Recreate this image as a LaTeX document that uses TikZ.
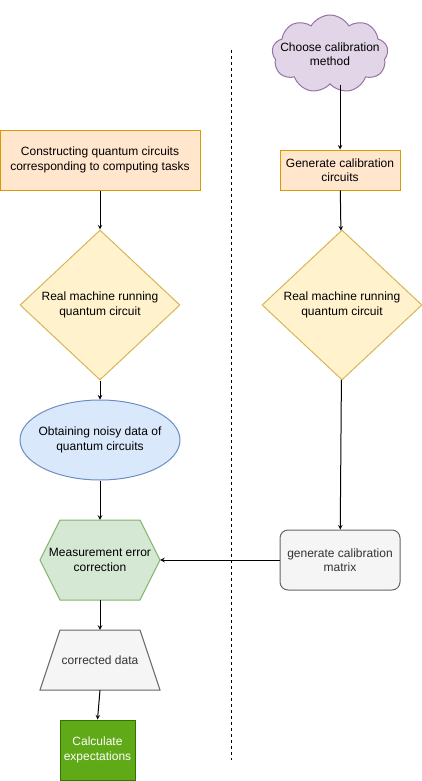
\documentclass[tikz,border=0pt]{standalone}
\usepackage{fontspec}
\setmainfont{Liberation Sans}
\usetikzlibrary{shapes.geometric,shapes.symbols}

\definecolor{orangefill}{HTML}{FFE6CC}
\definecolor{orangeline}{HTML}{D79B00}
\definecolor{yellowfill}{HTML}{FFF2CC}
\definecolor{yellowline}{HTML}{D6B656}
\definecolor{bluefill}{HTML}{DAE8FC}
\definecolor{blueline}{HTML}{6C8EBF}
\definecolor{greenfill}{HTML}{D5E8D4}
\definecolor{greenline}{HTML}{82B366}
\definecolor{grayfill}{HTML}{F5F5F5}
\definecolor{grayline}{HTML}{666666}
\definecolor{graytext}{HTML}{333333}
\definecolor{purplefill}{HTML}{E1D5E7}
\definecolor{purpleline}{HTML}{9673A6}
\definecolor{darkgreenfill}{HTML}{60A917}
\definecolor{darkgreenline}{HTML}{2D7600}

\tikzset{
  taskbox/.style={rectangle,draw=orangeline,fill=orangefill,line width=1pt},
  runbox/.style={diamond,draw=yellowline,fill=yellowfill,line width=1pt,minimum width=160pt,minimum height=150pt,inner sep=0pt},
  flowarrow/.style={-stealth,line width=1pt}
}

\begin{document}
\begin{tikzpicture}[x=1pt,y=-1pt,font=\fontsize{12}{14.5}\selectfont,align=center]
            \useasboundingbox (0,0) rectangle (421,781);
            \draw[dashed] (231,50) -- (231,760);

            % right column
            \node[cloud,cloud puffs=9,cloud puff arc=120,draw=purpleline,fill=purplefill,line width=1pt,minimum width=116pt,minimum height=78pt,inner sep=0pt] (choose) at (330,54) {};
            \node (choosetext) at (choose.center) {Choose calibration\\method};
            \node[taskbox,minimum width=120pt,minimum height=40pt] (gencirc) at (340,170) {Generate calibration\\circuits};
            \node[runbox] (runright) at (342,305) {Real machine running\\quantum circuit};
            \node[rectangle,rounded corners=8pt,draw=grayline,fill=grayfill,text=graytext,line width=1pt,minimum width=120pt,minimum height=60pt] (matrix) at (340,560) {generate calibration\\matrix};

            % left column
            \node[taskbox,minimum width=200pt,minimum height=60pt] (construct) at (100,160) {Constructing quantum circuits\\corresponding to computing tasks};
            \node[runbox] (runleft) at (100,305) {Real machine running\\quantum circuit};
            \node[ellipse,draw=blueline,fill=bluefill,line width=1pt,minimum width=160pt,minimum height=80pt,inner sep=0pt] (noisy) at (100,440) {};
            \node (noisytext) at (noisy.center) {Obtaining noisy data of\\quantum circuits};

            \draw[draw=greenline,fill=greenfill,line width=1pt] (60,520) -- (140,520) -- (160,560) -- (140,600) -- (60,600) -- (40,560) -- cycle;
            \node[minimum width=120pt,minimum height=80pt] (correct) at (100,560) {Measurement error\\correction};

            \draw[draw=grayline,fill=grayfill,line width=1pt] (60,630) -- (140,630) -- (160,690) -- (40,690) -- cycle;
            \node[text=graytext,minimum width=120pt,minimum height=60pt] (corrected) at (100,660) {corrected data};

            \node[rectangle,draw=darkgreenline,fill=darkgreenfill,text=white,line width=1pt,minimum width=75pt,minimum height=60pt] (expect) at (97.5,750) {Calculate\\expectations};

            \draw [flowarrow] (gencirc.north |- choose.south) -- (gencirc.north);
            \draw [flowarrow] (gencirc) -- (runright);
            \draw [flowarrow] (runright) -- (matrix);
            \draw [flowarrow] (matrix) -- (correct);
            \draw [flowarrow] (construct) -- (runleft);
            \draw [flowarrow] (runleft) -- (noisy);
            \draw [flowarrow] (noisy) -- (correct);
            \draw [flowarrow] (correct) -- (corrected);
            \draw [flowarrow] (corrected.south) -- (expect.north);
        \end{tikzpicture}
\end{document}
